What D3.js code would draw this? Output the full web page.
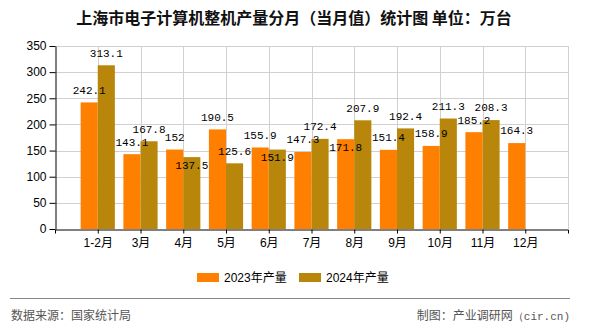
<!DOCTYPE html>
<html>
<head>
<meta charset="utf-8">
<script src="https://cdn.jsdelivr.net/npm/d3@7"></script>
<style>
  html, body { margin: 0; padding: 0; background: #fff; }
  svg { display: block; }
</style>
</head>
<body>
<svg id="chart" width="590" height="330"></svg>
<script>
// ---- data ----
const title = "上海市电子计算机整机产量分月（当月值）统计图 单位：万台";
const categories = ["1-2月", "3月", "4月", "5月", "6月", "7月", "8月", "9月", "10月", "11月", "12月"];
const seriesNames = ["2023年产量", "2024年产量"];
const values2023 = [242.1, 143.1, 152, 190.5, 155.9, 147.3, 171.8, 151.4, 158.9, 185.2, 164.3];
const values2024 = [313.1, 167.8, 137.5, 125.6, 151.9, 172.4, 207.9, 192.4, 211.3, 208.3, null];
const yTicks = [0, 50, 100, 150, 200, 250, 300, 350];
const sourceText = "数据来源：国家统计局";
const creditText = "制图：产业调研网";
const creditSite = "（cir.cn)";

// ---- layout ----
const colors = ["#FF8000", "#B8860B"];
const plot = { left: 55, right: 568, top: 46, bottom: 229 };
const cjk = "'Noto Sans CJK SC', 'Liberation Sans', sans-serif";
const sans = "'Liberation Sans', Arial, 'Noto Sans CJK SC', sans-serif";
const mono = "'Liberation Mono', 'DejaVu Sans Mono', monospace";

const svg = d3.select("#chart");
svg.append("rect").attr("width", 590).attr("height", 330).attr("fill", "#fff");

// title
svg.append("text")
  .attr("x", 294).attr("y", 24)
  .attr("text-anchor", "middle")
  .attr("font-family", cjk).attr("font-size", 16).attr("font-weight", "bold")
  .attr("fill", "#111")
  .text(title);

const x = d3.scalePoint().domain(categories).range([plot.left, plot.right]).padding(1);
const y = d3.scaleLinear().domain([0, 350]).range([plot.bottom, plot.top]);
const step = x.step();
const bw = step * 0.4;

// grid
const grid = svg.append("g").attr("stroke", "#d0d0d0").attr("stroke-width", 1);
grid.selectAll("line.h").data(yTicks.filter(d => d > 0)).enter().append("line")
  .attr("x1", plot.left).attr("x2", plot.right)
  .attr("y1", d => Math.round(y(d)) + 0.5).attr("y2", d => Math.round(y(d)) + 0.5);
grid.selectAll("line.v").data(categories).enter().append("line")
  .attr("x1", d => Math.round(x(d)) + 0.5).attr("x2", d => Math.round(x(d)) + 0.5)
  .attr("y1", plot.top).attr("y2", plot.bottom);
grid.append("line")
  .attr("x1", plot.right + 0.5).attr("x2", plot.right + 0.5)
  .attr("y1", plot.top).attr("y2", plot.bottom);

// bars
const series = [values2023, values2024];
series.forEach((vals, s) => {
  svg.append("g").selectAll("rect").data(vals.map((v, i) => ({ v, c: categories[i] })).filter(d => d.v != null))
    .enter().append("rect")
    .attr("x", d => x(d.c) - bw + s * bw)
    .attr("width", bw)
    .attr("y", d => y(d.v))
    .attr("height", d => y(0) - y(d.v))
    .attr("fill", colors[s]);
});

// axes
const yAxis = svg.append("g")
  .attr("transform", `translate(${plot.left + 0.5},0)`)
  .call(d3.axisLeft(y).tickValues(yTicks).tickFormat(d3.format("d")).tickSize(6).tickSizeOuter(0).tickPadding(3));
const xAxis = svg.append("g")
  .attr("transform", `translate(0,${plot.bottom + 0.5})`)
  .call(d3.axisBottom(x).tickSize(4).tickSizeOuter(4).tickPadding(5));
[yAxis, xAxis].forEach(g => {
  g.selectAll("path, line").attr("stroke", "#000");
  g.selectAll("text").attr("fill", "#000").attr("font-size", 12).attr("font-family", sans);
});

// value labels with simple overlap avoidance
const labelG = svg.append("g").attr("font-family", mono).attr("font-size", 11).attr("fill", "#000");
const placed = [];
categories.forEach((c, i) => {
  series.forEach((vals, s) => {
    const v = vals[i];
    if (v == null) return;
    const cx = x(c) - bw / 2 + s * bw;
    const top = y(v);
    const t = labelG.append("text")
      .attr("text-anchor", "middle")
      .attr("x", cx)
      .attr("dy", "0.35em")
      .text(String(v));
    const w = t.node().getComputedTextLength() - 4;
    const h = 10;
    let cy = top - 12.5;
    const hit = b => placed.some(p => b.x0 < p.x1 && b.x1 > p.x0 && b.y0 < p.y1 && b.y1 > p.y0);
    let box = { x0: cx - w / 2, x1: cx + w / 2, y0: cy - h / 2, y1: cy + h / 2 };
    if (hit(box)) {
      cy = top + 8;
      box = { x0: cx - w / 2, x1: cx + w / 2, y0: cy - h / 2, y1: cy + h / 2 };
    }
    placed.push(box);
    t.attr("y", cy);
  });
});

// legend
const legendX = [197, 299];
seriesNames.forEach((n, s) => {
  svg.append("rect").attr("x", legendX[s]).attr("y", 273).attr("width", 22).attr("height", 9).attr("fill", colors[s]);
  svg.append("text").attr("x", legendX[s] + 27).attr("y", 277.5).attr("dy", "0.35em")
    .attr("font-family", sans).attr("font-size", 12).attr("fill", "#000").text(n);
});

// footer
svg.append("line").attr("x1", 10).attr("x2", 570).attr("y1", 298.5).attr("y2", 298.5)
  .attr("stroke", "#888").attr("stroke-width", 1);
svg.append("text").attr("x", 11).attr("y", 320)
  .attr("font-family", cjk).attr("font-size", 12).attr("fill", "#555").text(sourceText);
const credit = svg.append("text").attr("x", 570).attr("y", 320).attr("text-anchor", "end")
  .attr("font-family", cjk).attr("font-size", 12).attr("fill", "#555");
credit.append("tspan").text(creditText);
credit.append("tspan").attr("font-family", mono).attr("font-size", 11).text(creditSite);
</script>
</body>
</html>
